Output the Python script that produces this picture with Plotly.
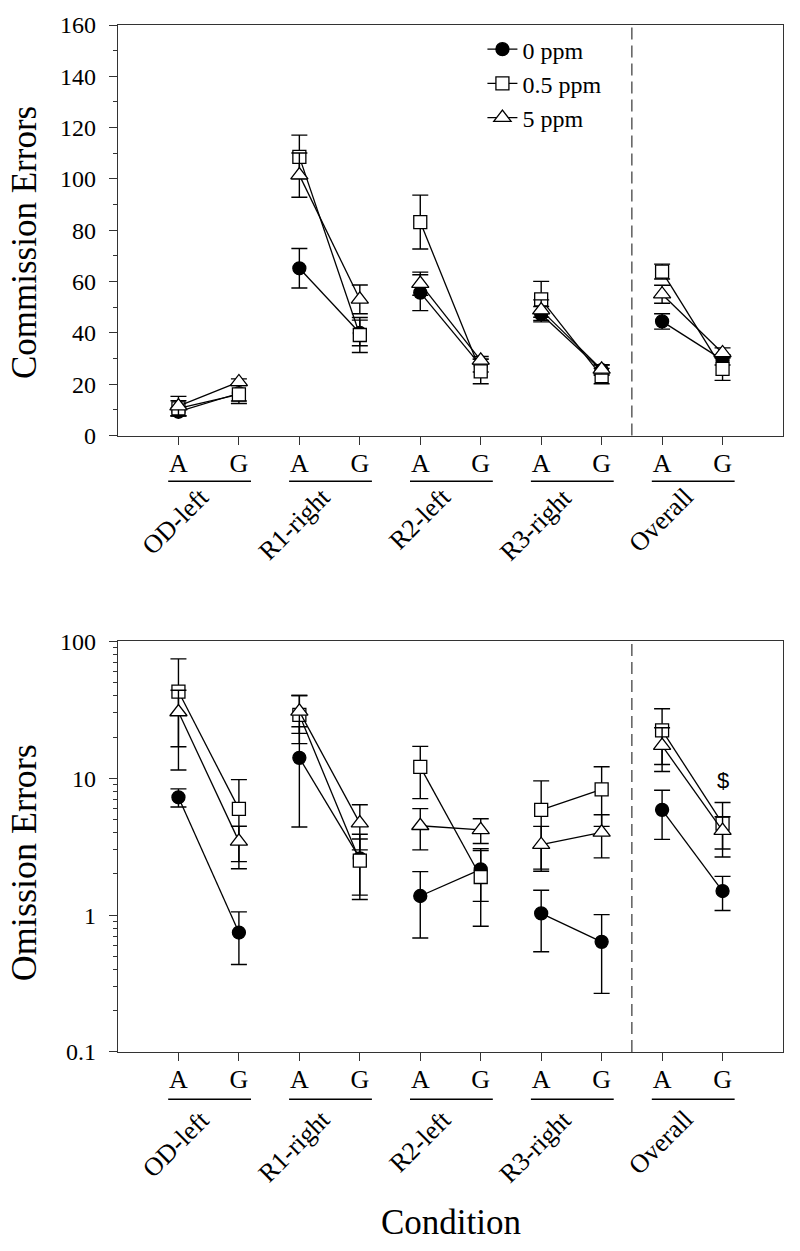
import math
import plotly.graph_objects as go

# ---------------- data ----------------
groups = ["OD-left", "R1-right", "R2-left", "R3-right", "Overall"]
phases = ["A", "G"]
series_names = ["0 ppm", "0.5 ppm", "5 ppm"]

# order: OD-A, OD-G, R1-A, R1-G, R2-A, R2-G, R3-A, R3-G, Overall-A, Overall-G
comm_0 = [9.3, 16.5, 65.2, 40.0, 55.7, 27.3, 47.3, 25.5, 44.5, 29.5]
comm_0_se = [1.5, 3.0, 7.7, 5.0, 7.0, 2.5, 3.0, 2.0, 3.0, 2.0]
comm_05 = [10.6, 16.1, 108.6, 39.2, 83.2, 25.0, 53.1, 23.2, 63.9, 26.0]
comm_05_se = [3.0, 3.6, 8.5, 6.8, 10.5, 4.8, 7.0, 3.0, 2.9, 4.5]
comm_5 = [11.5, 20.9, 101.5, 53.1, 59.2, 29.3, 48.9, 25.8, 55.1, 32.2]
comm_5_se = [3.8, 1.2, 8.6, 5.6, 4.5, 1.5, 4.0, 1.8, 3.5, 2.0]

omis_0 = [7.26, 0.746, 14.1, 2.6, 1.38, 2.16, 1.03, 0.638, 5.88, 1.5]
omis_0_se = [1.1, 0.31, 9.7, 1.3, 0.7, 0.9, 0.49, 0.37, 2.3, 0.42]
omis_05 = [43.0, 5.98, 29.1, 2.5, 12.1, 1.9, 5.87, 8.3, 22.4, 4.66]
omis_05_se = [31.5, 3.8, 11.2, 1.1, 5.0, 1.07, 3.7, 3.85, 9.8, 2.0]
omis_5 = [30.5, 3.46, 30.8, 4.7, 4.5, 4.2, 3.27, 4.02, 17.3, 4.14]
omis_5_se = [13.5, 1.0, 9.5, 1.7, 1.5, 0.86, 1.18, 1.4, 6.1, 1.1]

sig_label = "$"
sig_value = 9.6  # position of the significance mark (Overall G, omission)

# ---------------- helpers ----------------
FONT = "Liberation Serif"
xpos = list(range(1, len(groups) * len(phases) + 1))


def paired(vals, fill=None):
    out = []
    for i in range(0, len(vals), 2):
        out += [vals[i], vals[i + 1], fill]
    return out


xs = paired(xpos)
symbols = ["circle", "square", "triangle-up"]
fills = ["black", "white", "white"]
sizes = [13, 13, 15]

fig = go.Figure()

panels = [
    ("x", "y", [comm_0, comm_05, comm_5], [comm_0_se, comm_05_se, comm_5_se], True),
    ("x2", "y2", [omis_0, omis_05, omis_5], [omis_0_se, omis_05_se, omis_5_se], False),
]
for xa, ya, vals, errs, showleg in panels:
    for k in range(3):
        fig.add_trace(go.Scatter(
            x=xs, y=paired(vals[k]), xaxis=xa, yaxis=ya,
            mode="lines+markers", name=series_names[k], showlegend=showleg,
            connectgaps=False,
            line=dict(color="black", width=1.3),
            marker=dict(symbol=symbols[k], size=sizes[k], color=fills[k],
                        line=dict(color="black", width=1.3)),
            error_y=dict(type="data", array=paired(errs[k], 0), visible=True,
                         color="black", thickness=1.4, width=8),
        ))

axis_common = dict(showline=True, linecolor="#333", linewidth=1.3, mirror=True,
                   ticks="outside", ticklen=8, tickwidth=1.3, tickcolor="#333",
                   showgrid=False, zeroline=False)

tickvals = xpos
ticktext = phases * len(groups)

fig.update_layout(
    width=800, height=1251,
    margin=dict(l=118, r=17, t=19, b=199),
    paper_bgcolor="white", plot_bgcolor="white",
    font=dict(family=FONT, color="black"),
    xaxis=dict(domain=[0, 1], anchor="y", range=[0, 11], tickvals=tickvals, ticktext=ticktext,
               tickfont=dict(size=26, family=FONT), ticklabelstandoff=-4, **axis_common),
    yaxis=dict(domain=[0.6002, 1], anchor="x", range=[0, 160], dtick=20,
               tickfont=dict(size=24, family=FONT), ticklabelstandoff=8,
               minor=dict(dtick=10, ticks="outside", ticklen=4, tickwidth=1.3, tickcolor="#333"),
               **axis_common),
    xaxis2=dict(domain=[0, 1], anchor="y2", range=[0, 11], tickvals=tickvals, ticktext=ticktext,
                tickfont=dict(size=26, family=FONT), ticklabelstandoff=-4, **axis_common),
    yaxis2=dict(domain=[0, 0.3998], anchor="x2", type="log", range=[-1, 2],
                tickvals=[0.1, 1, 10, 100], ticktext=["0.1", "1", "10", "100"],
                tickfont=dict(size=24, family=FONT), ticklabelstandoff=8,
                minor=dict(tickvals=[m * 10 ** e for e in (-1, 0, 1) for m in range(2, 10)],
                           ticks="outside", ticklen=4, tickwidth=1.3, tickcolor="#333"),
                **axis_common),
    legend=dict(x=0.548, y=0.998, xanchor="left", yanchor="top", bgcolor="rgba(0,0,0,0)",
                font=dict(size=24, family=FONT), tracegroupgap=0, itemwidth=30),
)

shapes = []
annotations = []
for xa, ya, ul, lab_shift in [("x", "y", -0.1114, -44), ("x2", "y2", -0.1153, -50)]:
    # dashed separator before "Overall"
    shapes.append(dict(type="line", xref=xa, yref=f"{ya} domain", x0=8.5, x1=8.5, y0=0, y1=1,
                       line=dict(color="#444", width=1.3, dash="12px,6px")))
    for gi, g in enumerate(groups):
        a = xpos[2 * gi]
        b = xpos[2 * gi + 1]
        shapes.append(dict(type="line", xref=xa, yref=f"{ya} domain", x0=a - 0.17, x1=b + 0.2,
                           y0=ul, y1=ul, line=dict(color="black", width=1.5)))
        annotations.append(dict(text=g, xref=xa, yref=f"{ya} domain", x=(a + b) / 2, y=0,
                                xanchor="right", yanchor="top", textangle=-45, showarrow=False,
                                xshift=9, yshift=lab_shift,
                                font=dict(size=26, family=FONT, color="black")))

annotations.append(dict(text="Commission Errors", xref="x domain", yref="y domain", x=0, y=0.469,
                        xshift=-94, textangle=-90, showarrow=False, xanchor="center", yanchor="middle",
                        font=dict(size=35, family=FONT, color="black")))
annotations.append(dict(text="Omission Errors", xref="x2 domain", yref="y2 domain", x=0, y=0.46,
                        xshift=-94, textangle=-90, showarrow=False, xanchor="center", yanchor="middle",
                        font=dict(size=36, family=FONT, color="black")))
annotations.append(dict(text="Condition", xref="x2 domain", yref="y2 domain", x=0.5, y=0,
                        yshift=-170, showarrow=False, xanchor="center", yanchor="middle",
                        font=dict(size=35, family=FONT, color="black")))
annotations.append(dict(text=sig_label, xref="x2", yref="y2", x=xpos[-1], y=math.log10(sig_value),
                        showarrow=False, xanchor="center", yanchor="middle",
                        font=dict(size=22, family="Liberation Sans", color="black")))

fig.update_layout(shapes=shapes, annotations=annotations)
fig.write_html("out.html", config={"displayModeBar": False},
               post_script="document.body.style.margin='0px';")
